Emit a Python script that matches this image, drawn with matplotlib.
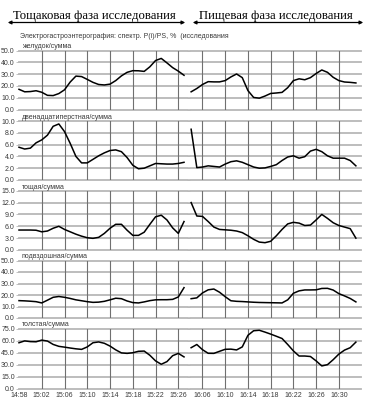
import numpy as np
import matplotlib
matplotlib.use("Agg")
import matplotlib.pyplot as plt

# sampling times, minutes (left: from 14:58, right: from 16:00)
t_fast = np.arange(0, 30)
t_food = np.arange(4, 34)

row_titles = ["желудок/сумма", "двенадцатиперстная/сумма", "тощая/сумма",
              "подвздошная/сумма", "толстая/сумма"]
row_ymax = [50, 10, 15, 50, 75]
row_ystep = [10, 2, 3, 10, 15]

stomach_fast = [17.1, 15.0, 15.2, 15.9, 14.6, 12.0, 11.8, 13.5, 16.7, 23.3,
                28.3, 27.9, 25.5, 23.0, 21.2, 20.8, 21.5, 24.5, 28.5, 31.5,
                32.9, 32.8, 32.3, 36.2, 41.5, 43.3, 39.5, 35.5, 32.5, 29.0]
stomach_food = [15.0, 17.8, 21.2, 23.6, 23.4, 23.4, 24.5, 27.6, 30.1, 27.0,
                16.0, 10.2, 9.6, 11.4, 13.6, 14.0, 14.5, 18.5, 24.5, 26.0,
                25.2, 27.0, 30.5, 33.5, 31.5, 27.3, 24.5, 23.3, 23.0, 22.5]

duod_fast = [5.55, 5.25, 5.4, 6.3, 6.8, 7.6, 9.1, 9.5, 8.2, 6.2,
             4.0, 2.9, 2.9, 3.5, 4.1, 4.6, 5.0, 5.1, 4.8, 3.8,
             2.5, 1.9, 2.0, 2.4, 2.8, 2.75, 2.7, 2.7, 2.8, 3.0]
duod_food = [8.6, 2.1, 2.2, 2.4, 2.3, 2.2, 2.7, 3.1, 3.25, 3.0,
             2.6, 2.2, 2.0, 2.05, 2.3, 2.6, 3.3, 3.9, 4.1, 3.7,
             3.95, 4.9, 5.2, 4.8, 4.1, 3.7, 3.7, 3.7, 3.3, 2.4]

jej_fast = [5.05, 5.05, 5.05, 5.0, 4.6, 4.8, 5.5, 6.0, 5.2, 4.6,
            4.0, 3.5, 3.1, 2.95, 3.2, 4.2, 5.5, 6.5, 6.5, 5.0,
            3.7, 3.7, 4.5, 6.5, 8.4, 8.8, 7.6, 5.6, 4.2, 7.2]
jej_food = [12.0, 8.6, 8.5, 7.2, 5.8, 5.2, 5.1, 5.0, 4.8, 4.4,
            3.6, 2.7, 2.0, 1.85, 2.2, 3.6, 5.2, 6.6, 7.0, 6.8,
            6.2, 6.3, 7.6, 9.0, 8.0, 6.9, 6.2, 5.8, 5.4, 3.0]

ileum_fast = [15.1, 14.9, 14.6, 14.2, 13.1, 15.5, 18.0, 18.7, 18.0, 17.0,
              15.8, 15.0, 14.2, 13.6, 13.8, 14.5, 15.8, 17.2, 16.8, 14.8,
              13.4, 13.1, 14.0, 15.1, 15.8, 15.9, 15.9, 16.2, 18.3, 26.4]
ileum_food = [16.8, 17.5, 21.8, 24.5, 25.2, 22.4, 18.5, 15.0, 14.5, 14.3,
              14.0, 13.7, 13.5, 13.4, 13.3, 13.2, 13.1, 15.8, 21.5, 23.6,
              24.4, 24.4, 24.5, 25.7, 25.8, 24.3, 21.2, 19.2, 17.0, 14.0]

colon_fast = [57.2, 59.5, 58.6, 58.4, 60.5, 59.3, 55.1, 52.7, 51.7, 50.6,
              49.6, 48.9, 52.0, 57.2, 58.2, 56.5, 53.0, 48.3, 44.5, 43.9,
              44.7, 46.5, 46.8, 41.5, 34.5, 30.3, 33.6, 41.0, 43.9, 39.5]
colon_food = [51.0, 55.0, 48.5, 44.0, 43.9, 46.5, 49.0, 49.2, 48.2, 52.0,
              66.5, 72.2, 72.8, 70.5, 68.0, 65.3, 62.5, 55.0, 47.0, 40.6,
              40.6, 40.0, 34.5, 28.2, 29.8, 36.0, 43.0, 48.0, 51.0, 58.0]

fast_series = [stomach_fast, duod_fast, jej_fast, ileum_fast, colon_fast]
food_series = [stomach_food, duod_food, jej_food, ileum_food, colon_food]

fast_ticks = [0, 4, 8, 12, 16, 20, 24, 28]
fast_labels = ["14:58", "15:02", "15:06", "15:10", "15:14", "15:18", "15:22", "15:26"]
food_ticks = [6, 10, 14, 18, 22, 26, 30]
food_labels = ["16:06", "16:10", "16:14", "16:18", "16:22", "16:26", "16:30"]

W, H = 370, 400
fig = plt.figure(figsize=(3.7, 4.0), dpi=100)
plt.rcParams['font.family'] = ['Liberation Sans', 'DejaVu Sans']

rows_px = [(50.5, 109.5), (121, 180), (190.7, 250), (260.5, 318), (328.5, 388.5)]
cols_px = [(19, 188, (0, 29.7)), (190, 361, (3.8, 33.9))]

txt_col = '#3a3a3a'
hgrid = '#b8b8b8'
vgrid = '#707070'
fs = 5.0

for r, (top, bot) in enumerate(rows_px):
    for c, (x0, x1, xl) in enumerate(cols_px):
        ax = fig.add_axes([x0 / W, 1 - bot / H, (x1 - x0) / W, (bot - top) / H])
        for s in ax.spines.values():
            s.set_visible(False)
        ax.set_xlim(*xl)
        ax.set_ylim(0, row_ymax[r])
        yt = np.arange(0, row_ymax[r] + 0.01, row_ystep[r])
        for v in yt:
            ax.axhline(v, color=hgrid, lw=1.3, zorder=1, clip_on=False)
        ticks = fast_ticks if c == 0 else food_ticks
        for v in ticks:
            if v > xl[0] + 0.5:
                ax.axvline(v, color=vgrid, lw=0.8, zorder=1)
        if c == 0:
            t, ys = t_fast, fast_series[r]
        else:
            t, ys = t_food, food_series[r]
        ax.plot(t, ys, color='black', lw=1.1, zorder=3, clip_on=False)
        ax.set_yticks(yt)
        if c == 0:
            ax.set_yticklabels([f"{v:.1f}" for v in yt], fontsize=fs, color=txt_col)
            ax.text(0.015, 1.0, row_titles[r], transform=ax.transAxes, fontsize=fs,
                    color=txt_col, va='bottom', ha='left')
        else:
            ax.set_yticklabels([])
        ax.tick_params(axis='y', length=2, width=0.6, color=hgrid, pad=1)
        ax.set_xticks(ticks)
        if r == len(rows_px) - 1:
            ax.set_xticklabels(fast_labels if c == 0 else food_labels,
                               fontsize=fs, color=txt_col)
        else:
            ax.set_xticklabels([])
        ax.tick_params(axis='x', length=0, pad=2.5)

# phase headers with double arrows
fig.text(94 / W, 1 - 16 / H, "Тощаковая фаза исследования", family='Liberation Serif',
         fontsize=9.2, ha='center', va='center')
fig.text(276 / W, 1 - 16 / H, "Пищевая фаза исследования", family='Liberation Serif',
         fontsize=9.2, ha='center', va='center')
for a, b in [(5, 188), (190, 366)]:
    fig.add_artist(matplotlib.patches.FancyArrowPatch(
        (a / W, 1 - 22.5 / H), (b / W, 1 - 22.5 / H), transform=fig.transFigure,
        arrowstyle='<|-|>', mutation_scale=5, lw=0.9, color='black'))

fig.text(20 / W, 1 - 37 / H,
         "Электрогастроэнтерография: спектр. P(i)/PS, %  (исследования",
         fontsize=fs, color=txt_col, va='center', ha='left')

fig.savefig("out.png", dpi=100)
